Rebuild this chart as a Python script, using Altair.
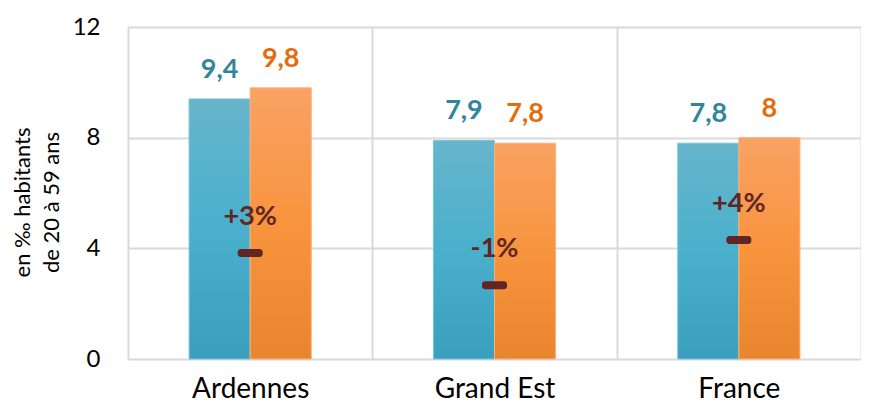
import altair as alt
import pandas as pd

categories = ["Ardennes", "Grand Est", "France"]
series_names = ["Série 1", "Série 2"]
blue_values = [9.4, 7.9, 7.8]
orange_values = [9.8, 7.8, 8.0]
marker_values = [3.83, 2.67, 4.3]
evolution_labels = ["+3%", "-1%", "+4%"]
y_ticks = [0, 4, 8, 12]


def fr(v):
    s = ("%g" % v)
    return s.replace(".", ",")


rows = []
for c, b, o in zip(categories, blue_values, orange_values):
    rows.append({"cat": c, "series": series_names[0], "value": b, "label": fr(b)})
    rows.append({"cat": c, "series": series_names[1], "value": o, "label": fr(o)})
bars_df = pd.DataFrame(rows)
marker_df = pd.DataFrame({"cat": categories, "m": marker_values, "lab": evolution_labels})

FONT = "Lato"

x_enc = alt.X(
    "cat:N",
    sort=categories,
    scale=alt.Scale(paddingInner=0, paddingOuter=0),
    axis=alt.Axis(
        title=None,
        labelAngle=0,
        labelFontSize=28,
        labelFont=FONT,
        labelColor="#000000",
        labelPadding=38,
        labelBaseline="alphabetic",
        ticks=False,
        domain=False,
        grid=True,
        tickBand="extent",
        gridColor="#d9d9d9",
        gridWidth=2,
    ),
)
xoff = alt.XOffset(
    "series:N",
    sort=series_names,
    scale=alt.Scale(domain=series_names, paddingInner=0, paddingOuter=1),
)
y_enc = alt.Y(
    "value:Q",
    scale=alt.Scale(domain=[0, 12], nice=False),
    axis=alt.Axis(
        values=y_ticks,
        title=["en ‰ habitants", "de 20 à 59 ans"],
        titleFont=FONT,
        titleFontWeight="normal",
        titleFontSize=22,
        titleColor="#000000",
        titleLineHeight=29,
        titleX=-106,
        titleY=175,
        titleAngle=-90,
        titleAlign="center",
        titleBaseline="middle",
        labelFontSize=24,
        labelFont=FONT,
        labelColor="#000000",
        labelPadding=28,
        ticks=False,
        domain=False,
        gridColor="#d9d9d9",
        gridWidth=2,
    ),
)

blue_grad = alt.Gradient(
    gradient="linear",
    stops=[
        alt.GradientStop(color="#66b5cc", offset=0),
        alt.GradientStop(color="#4ab0cc", offset=0.5),
        alt.GradientStop(color="#3a9ebd", offset=1),
    ],
    x1=0, x2=0, y1=0, y2=1,
)
orange_grad = alt.Gradient(
    gradient="linear",
    stops=[
        alt.GradientStop(color="#f9a263", offset=0),
        alt.GradientStop(color="#f8943e", offset=0.5),
        alt.GradientStop(color="#e8852e", offset=1),
    ],
    x1=0, x2=0, y1=0, y2=1,
)

base = alt.Chart(bars_df).encode(x=x_enc, xOffset=xoff, y=y_enc)

blue_bars = base.transform_filter(alt.datum.series == series_names[0]).mark_bar(
    color=blue_grad, stroke="#7cc3d8", strokeWidth=1
)
orange_bars = base.transform_filter(alt.datum.series == series_names[1]).mark_bar(
    color=orange_grad, stroke="#fbb07a", strokeWidth=1
)

value_text = base.mark_text(
    font=FONT, fontSize=27, fontWeight="bold", baseline="alphabetic", dy=-21
).encode(
    text="label:N",
    color=alt.Color(
        "series:N",
        scale=alt.Scale(domain=series_names, range=["#31859c", "#e46c0a"]),
        legend=None,
    ),
)

mbase = alt.Chart(marker_df).encode(
    x=alt.X("cat:N", sort=categories),
    y=alt.Y("m:Q"),
)
markers = mbase.mark_tick(
    color="#632523", thickness=8, size=25, cornerRadius=3, opacity=1
)
marker_text = mbase.mark_text(
    font=FONT, fontSize=27, fontWeight="bold", baseline="alphabetic", dy=-28,
    color="#632523",
).encode(text="lab:N")

chart = (
    alt.layer(blue_bars, orange_bars, value_text, markers, marker_text)
    .properties(
        width=733,
        height=332,
        padding={"left": 120, "top": 19, "right": 0, "bottom": 45},
        autosize=alt.AutoSizeParams(type="none"),
    )
    .configure_view(stroke=None)
    .configure(background="#ffffff")
)

chart.save("out.html", embed_options={"renderer": "svg", "actions": False})
